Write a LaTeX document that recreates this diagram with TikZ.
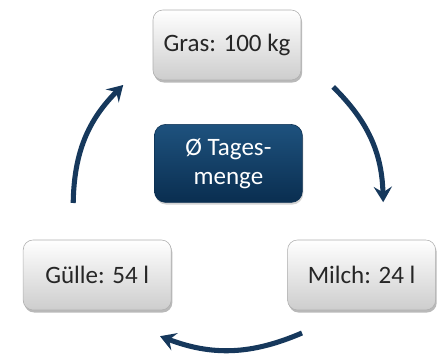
\documentclass[tikz,border=0pt]{standalone}
\usepackage{fontspec}
\setmainfont{Carlito}
\usepackage{xcolor}
\usepackage{tikz}
\usetikzlibrary{arrows.meta, shadows, positioning}
\definecolor{arrowcolor}{RGB}{22, 56, 92}
\definecolor{hubtop}{RGB}{30, 82, 126}
\definecolor{hubbottom}{RGB}{10, 46, 80}
\definecolor{boxedge}{RGB}{175, 175, 175}
\definecolor{boxbottom}{RGB}{205, 205, 205}

\begin{document}
\begin{tikzpicture}[
    every node/.style={align=center},
    stagebox/.style={draw=boxedge, rounded corners=7pt, top color=white, bottom color=boxbottom,
        minimum width=3.7cm, minimum height=1.75cm, text=black!85,
        font=\fontsize{17.8}{21}\selectfont,
        drop shadow={shadow xshift=0.8pt, shadow yshift=-1.8pt, opacity=0.55}},
    hubbox/.style={draw=hubbottom, rounded corners=8pt, top color=hubtop, bottom color=hubbottom,
        minimum width=3.7cm, minimum height=1.95cm, text=white,
        font=\fontsize{17.8}{20.6}\selectfont,
        drop shadow={shadow xshift=0.6pt, shadow yshift=-1.6pt, opacity=0.35}},
    cyclearrow/.style={-{Stealth[length=11pt, width=13pt, inset=4pt]}, line width=3.6pt, arrowcolor}
]
    \useasboundingbox (0, 0) rectangle (10.95, 8.925);

    % Stages
    \node[stagebox] (gras) at (5.675, 7.8) {Gras: 100 kg};
    \node[stagebox] (milch) at (9.04, 2.05) {Milch: 24 l};
    \node[stagebox] (guelle) at (2.43, 2.05) {Gülle: 54 l};

    % Centre
    \node[hubbox] (menge) at (5.71, 4.84) {Ø Tages-\\menge};

    % Arrow ends
    \coordinate (grasout) at (8.33, 6.75);
    \coordinate (milchin) at (9.58, 3.87);
    \coordinate (milchout) at (7.55, 0.6);
    \coordinate (guellein) at (4.0, 0.52);
    \coordinate (guelleout) at (1.83, 3.85);
    \coordinate (grasin) at (3.08, 6.8);

    % Cycle
    \draw[cyclearrow] (grasout) to[bend left=22] (milchin);
    \draw[cyclearrow] (milchout) to[bend left=22] (guellein);
    \draw[cyclearrow] (guelleout) to[bend left=22] (grasin);

\end{tikzpicture}
\end{document}
